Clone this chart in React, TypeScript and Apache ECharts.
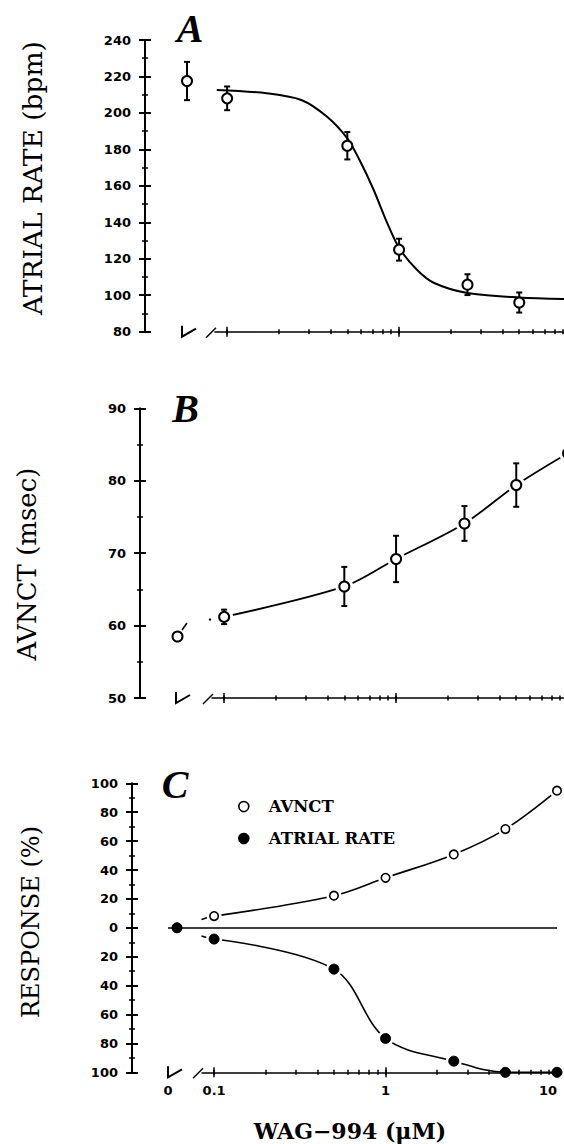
import React, { useEffect, useRef } from "react";
import * as echarts from "echarts";

const W = 564;
const H = 1144;

// ---------------- data ----------------
// log-axis tick positions (µM) and labelled ticks
const logTickValues = [0.1, 0.2, 0.3, 0.4, 0.5, 0.6, 0.7, 0.8, 0.9, 1, 2, 3, 4, 5, 6, 7, 8, 9, 10];
const logMajorValues = [0.1, 1, 10];
const logLabelValues = [0.1, 1, 10];

// Panel A : atrial rate (bpm), mean ± SEM
const rateCtrl = 217.5;
const rateCtrlSem = 10.5;
const rateDose = [0.1, 0.5, 1, 2.5, 5];
const rateMean = [208, 182, 125, 105.8, 96];
const rateSem = [6.5, 7.5, 6, 5.7, 5.5];
// fitted curve
const rateFitDose = [0.087, 0.17, 0.27, 0.38, 0.5, 0.59, 0.71, 0.85, 1.0, 1.27, 1.6, 2.5, 5, 10];
const rateFitValue = [212.6, 210.8, 207.1, 198, 186, 174, 158, 140, 126, 114, 106.7, 101.2, 98.8, 97.9];

// Panel B : AVNCT (msec), mean ± SEM
const avnctCtrl = 58.5;
const avnctDose = [0.1, 0.5, 1, 2.5, 5, 10];
const avnctMean = [61.2, 65.4, 69.2, 74.1, 79.4, 83.8];
const avnctSem = [1.0, 2.7, 3.2, 2.4, 3.0, 0];

// Panel C : response (%)
const respCtrl = 0;
const respDose = [0.1, 0.5, 1, 2.5, 5, 10];
const respAvnct = [8.1, 22.2, 34.6, 50.8, 68.3, 94.9];
const respRate = [-7.8, -28.6, -76.6, -92.3, -100, -100];

// ---------------- layout ----------------
type Panel = {
  top: number;
  height: number;
  axisX: number;
  ctrlX: number;
  ctrlTickX: number;
  logLeft: number;
  logWidth: number;
  yMin: number;
  yMax: number;
  yStep: number;
};

const panelA: Panel = { top: 40, height: 291.7, axisX: 145, ctrlX: 187, ctrlTickX: 182, logLeft: 215, logWidth: 356, yMin: 80, yMax: 240, yStep: 20 };
const panelB: Panel = { top: 408.3, height: 289.7, axisX: 140, ctrlX: 177.5, ctrlTickX: 176, logLeft: 212, logWidth: 356, yMin: 50, yMax: 90, yStep: 10 };
const panelC: Panel = { top: 783.3, height: 289, axisX: 132, ctrlX: 177, ctrlTickX: 168, logLeft: 202, logWidth: 355, yMin: -100, yMax: 100, yStep: 20 };

const LOG_MIN = 0.085;
const LOG_MAX = 10;
const BLK = "#000";
const TICK_FONT = { fontFamily: "DejaVu Sans", fontWeight: "bold" as const, fontSize: 13, color: BLK };

function buildOption() {
  const grid: any[] = [];
  const xAxis: any[] = [];
  const yAxis: any[] = [];
  const series: any[] = [];
  const graphic: any[] = [];

  function addPanel(p: Panel, showXLabels: boolean, yFormatter?: (v: number) => string) {
    const gCtrl = grid.length;
    grid.push({ left: p.axisX, top: p.top, width: p.logLeft - p.axisX, height: p.height, containLabel: false, outerBoundsMode: "none" });
    const gLog = grid.length;
    grid.push({ left: p.logLeft, top: p.top, width: p.logWidth, height: p.height, containLabel: false, outerBoundsMode: "none" });

    // control (dose 0) axis, linear, hidden
    const xCtrl = xAxis.length;
    xAxis.push({
      type: "value",
      gridIndex: gCtrl,
      position: "bottom",
      min: -(p.ctrlX - p.axisX),
      max: p.logLeft - p.ctrlX,
      axisLine: { show: false, onZero: false },
      axisTick: { show: false },
      splitLine: { show: false },
      axisLabel: showXLabels
        ? { show: true, customValues: [p.ctrlTickX - p.ctrlX], formatter: () => "0", margin: 12, ...TICK_FONT }
        : { show: false },
    });

    const yCtrl = yAxis.length;
    yAxis.push({
      type: "value",
      gridIndex: gCtrl,
      position: "left",
      min: p.yMin,
      max: p.yMax,
      interval: p.yStep,
      axisLine: { show: true, onZero: false, lineStyle: { color: BLK, width: 2 } },
      axisTick: { show: true, inside: false, length: 6, lineStyle: { color: BLK, width: 2 } },
      minorTick: { show: true, splitNumber: 2, length: 3, lineStyle: { color: BLK, width: 1.5 } },
      splitLine: { show: false },
      axisLabel: { show: true, margin: 14, ...TICK_FONT, formatter: yFormatter || ((v: number) => String(v)) },
    });
    yAxis.push({
      type: "value",
      gridIndex: gCtrl,
      position: "left",
      min: p.yMin,
      max: p.yMax,
      interval: p.yStep,
      axisLine: { show: false, onZero: false },
      axisTick: { show: true, inside: true, length: 6, lineStyle: { color: BLK, width: 2 } },
      minorTick: { show: true, splitNumber: 2, length: 3, lineStyle: { color: BLK, width: 1.5 } },
      splitLine: { show: false },
      axisLabel: { show: false },
    });
    const yLog = yAxis.length;
    yAxis.push({ type: "value", gridIndex: gLog, min: p.yMin, max: p.yMax, show: false, axisLine: { onZero: false } });

    const xLog = xAxis.length;
    const logBase = {
      type: "log",
      logBase: 10,
      gridIndex: gLog,
      position: "bottom",
      min: LOG_MIN,
      max: LOG_MAX,
      splitLine: { show: false },
      minorTick: { show: false },
    };
    xAxis.push({
      ...logBase,
      axisLine: { show: true, onZero: false, lineStyle: { color: BLK, width: 1.5 } },
      axisTick: { show: true, inside: false, length: 2.5, customValues: logTickValues, lineStyle: { color: BLK, width: 1.5 } },
      axisLabel: showXLabels
        ? {
            show: true,
            customValues: logLabelValues,
            margin: 12,
            alignMaxLabel: "right",
            ...TICK_FONT,
            formatter: (v: number) => String(+Number(v).toPrecision(3)),
          }
        : { show: false },
    });
    xAxis.push({
      ...logBase,
      axisLine: { show: false, onZero: false },
      axisTick: { show: true, inside: true, length: 2.5, customValues: logTickValues, lineStyle: { color: BLK, width: 1.5 } },
      axisLabel: { show: false },
    });
    xAxis.push({
      ...logBase,
      axisLine: { show: false, onZero: false },
      axisTick: { show: true, inside: false, length: 5, customValues: logMajorValues, lineStyle: { color: BLK, width: 1.5 } },
      axisLabel: { show: false },
    });
    xAxis.push({
      ...logBase,
      axisLine: { show: false, onZero: false },
      axisTick: { show: true, inside: true, length: 5, customValues: logMajorValues, lineStyle: { color: BLK, width: 1.5 } },
      axisLabel: { show: false },
    });

    // axis-break marks (decoration)
    const yAx = p.top + p.height;
    graphic.push({
      type: "polyline",
      shape: { points: [[p.ctrlTickX, yAx - 6], [p.ctrlTickX, yAx + 5], [p.ctrlTickX + 14, yAx - 3]] },
      style: { stroke: BLK, lineWidth: 2, fill: "none" },
    });
    graphic.push({
      type: "polyline",
      shape: { points: [[p.logLeft - 9, yAx + 6], [p.logLeft + 1, yAx - 4]] },
      style: { stroke: BLK, lineWidth: 1.5, fill: "none" },
    });

    return { xCtrl, yCtrl, xLog, yLog };
  }

  const lineS = (name: string, xi: number, yi: number, data: number[][], width: number, smooth: number, extra: any = {}) => ({
    type: "line",
    name,
    xAxisIndex: xi,
    yAxisIndex: yi,
    data,
    symbol: "none",
    showSymbol: false,
    smooth,
    lineStyle: { color: BLK, width },
    itemStyle: { color: BLK },
    z: 2,
    silent: true,
    ...extra,
  });

  const dotS = (name: string, xi: number, yi: number, data: number[][], size: number, fill: string, bw: number, z = 5) => ({
    type: "scatter",
    name,
    xAxisIndex: xi,
    yAxisIndex: yi,
    data,
    symbol: "circle",
    symbolSize: size,
    itemStyle: { color: fill, borderColor: BLK, borderWidth: bw, opacity: 1 },
    z,
    silent: true,
  });

  const haloS = (xi: number, yi: number, data: number[][], size: number) => ({
    type: "scatter",
    name: "halo",
    xAxisIndex: xi,
    yAxisIndex: yi,
    data,
    symbol: "circle",
    symbolSize: size,
    itemStyle: { color: "#fff", borderWidth: 0, opacity: 1 },
    z: 3,
    silent: true,
  });

  const errS = (xi: number, yi: number, data: number[][]) => ({
    type: "custom",
    name: "sem",
    xAxisIndex: xi,
    yAxisIndex: yi,
    data,
    encode: { x: 0, y: 1 },
    z: 4,
    silent: true,
    renderItem: (params: any, api: any) => {
      const x = api.value(0);
      const y = api.value(1);
      const e = api.value(2);
      if (!e) return null;
      const t = api.coord([x, y + e]);
      const b = api.coord([x, y - e]);
      const w = 3;
      const st = { stroke: BLK, lineWidth: 2 };
      return {
        type: "group",
        children: [
          { type: "line", shape: { x1: t[0], y1: t[1], x2: b[0], y2: b[1] }, style: st },
          { type: "line", shape: { x1: t[0] - w, y1: t[1], x2: t[0] + w, y2: t[1] }, style: st },
          { type: "line", shape: { x1: b[0] - w, y1: b[1], x2: b[0] + w, y2: b[1] }, style: st },
        ],
      };
    },
  });

  // ---------- Panel A ----------
  const a = addPanel(panelA, false);
  series.push(lineS("fit", a.xLog, a.yLog, rateFitDose.map((d, i) => [d, rateFitValue[i]]), 2, 0.3));
  series.push(errS(a.xLog, a.yLog, rateDose.map((d, i) => [d, rateMean[i], rateSem[i]])));
  series.push(dotS("rateA", a.xLog, a.yLog, rateDose.map((d, i) => [d, rateMean[i]]), 10, "#fff", 2));
  series.push(errS(a.xCtrl, a.yCtrl, [[0, rateCtrl, rateCtrlSem]]));
  series.push(dotS("rateA0", a.xCtrl, a.yCtrl, [[0, rateCtrl]], 10, "#fff", 2));

  // ---------- Panel B ----------
  const b = addPanel(panelB, false);
  const bPts = avnctDose.map((d, i) => [d, avnctMean[i]]);
  series.push(lineS("avnctLine", b.xLog, b.yLog, bPts, 1.8, 0.3));
  series.push(haloS(b.xLog, b.yLog, bPts, 18));
  series.push(errS(b.xLog, b.yLog, avnctDose.map((d, i) => [d, avnctMean[i], avnctSem[i]])));
  series.push(dotS("avnctB", b.xLog, b.yLog, bPts, 10, "#fff", 2));
  series.push(dotS("avnctB0", b.xCtrl, b.yCtrl, [[0, avnctCtrl]], 10, "#fff", 2));
  // short stubs of the broken connector between dose 0 and 0.1 (decoration)
  graphic.push({ type: "line", shape: { x1: 182, y1: 630, x2: 187, y2: 623 }, style: { stroke: BLK, lineWidth: 1.6 } });
  graphic.push({ type: "circle", shape: { cx: 210, cy: 619.5, r: 1.2 }, style: { fill: BLK } });

  // ---------- Panel C ----------
  const c = addPanel(panelC, true, (v: number) => String(Math.abs(v)));
  const cAv = respDose.map((d, i) => [d, respAvnct[i]]);
  const cRt = respDose.map((d, i) => [d, respRate[i]]);
  series.push(
    lineS("avnctResp", c.xLog, c.yLog, cAv, 1.6, 0.35, {
      markLine: {
        silent: true,
        symbol: "none",
        label: { show: false },
        lineStyle: { color: BLK, width: 1.6, type: "solid" },
        data: [{ yAxis: 0 }],
      },
    })
  );
  series.push(lineS("rateResp", c.xLog, c.yLog, cRt, 1.6, 0.35));
  series.push(haloS(c.xLog, c.yLog, cAv, 15));
  series.push(haloS(c.xLog, c.yLog, cRt.filter((pt) => pt[1] > panelC.yMin), 16));
  series.push(dotS("AVNCT", c.xLog, c.yLog, cAv, 8.5, "#fff", 1.6));
  series.push(dotS("ATRIAL RATE", c.xLog, c.yLog, cRt, 10, BLK, 1));
  series.push({
    ...dotS("AVNCT", c.xCtrl, c.yCtrl, [[0, respCtrl]], 8.5, "#fff", 1.6),
    markLine: {
      silent: true,
      symbol: "none",
      label: { show: false },
      lineStyle: { color: BLK, width: 1.6, type: "solid" },
      data: [[{ coord: [panelC.ctrlTickX - panelC.ctrlX, 0] }, { coord: [panelC.logLeft - panelC.ctrlX, 0] }]],
    },
  });
  series.push(dotS("ATRIAL RATE", c.xCtrl, c.yCtrl, [[0, respCtrl]], 10, BLK, 1, 6));
  // connector stubs leaving the axis break (decoration)
  graphic.push({ type: "line", shape: { x1: 201.5, y1: 919.5, x2: 209, y2: 917 }, style: { stroke: BLK, lineWidth: 1.6 } });
  graphic.push({ type: "line", shape: { x1: 201.5, y1: 936, x2: 209, y2: 938.3 }, style: { stroke: BLK, lineWidth: 1.6 } });

  // ---------- texts ----------
  const letter = (t: string, x: number, y: number) => ({
    type: "text",
    x,
    y,
    style: { text: t, fontFamily: "Liberation Serif", fontStyle: "italic", fontWeight: "bold", fontSize: 40, fill: BLK, align: "center", verticalAlign: "middle" },
  });
  graphic.push(letter("A", 190, 28));
  graphic.push(letter("B", 185.5, 408));
  graphic.push(letter("C", 175, 784));

  const ytitle = (t: string, x: number, y: number, size: number) => ({
    type: "text",
    x,
    y,
    rotation: Math.PI / 2,
    style: { text: t, fontFamily: "DejaVu Serif", fontSize: size, fill: BLK, align: "center", verticalAlign: "middle" },
  });
  graphic.push(ytitle("ATRIAL RATE (bpm)", 32, 178, 26.5));
  graphic.push(ytitle("AVNCT (msec)", 27, 564, 26));
  graphic.push(ytitle("RESPONSE (%)", 31, 922, 24));
  graphic.push({
    type: "text",
    x: 350,
    y: 1131,
    style: { text: "WAG\u2212994 (\u03bcM)", fontFamily: "DejaVu Serif", fontWeight: "bold", fontSize: 22, fill: BLK, align: "center", verticalAlign: "middle" },
  });

  return {
    animation: false,
    backgroundColor: "#fff",
    grid,
    xAxis,
    yAxis,
    series,
    graphic,
    legend: {
      show: true,
      selectedMode: false,
      orient: "vertical",
      left: 238,
      top: 798,
      padding: 0,
      itemWidth: 40,
      itemHeight: 10,
      itemGap: 15,
      icon: "circle",
      data: [{ name: "AVNCT" }, { name: "ATRIAL RATE" }],
      itemStyle: { borderWidth: 1.6 },
      textStyle: { fontFamily: "DejaVu Serif", fontWeight: "bold", fontSize: 16.5, color: BLK, lineHeight: 16 },
    },
  };
}

export default function App() {
  const ref = useRef<HTMLDivElement>(null);
  useEffect(() => {
    document.body.style.margin = "0";
    const chart = echarts.init(ref.current as HTMLDivElement, null, { renderer: "svg", width: W, height: H });
    chart.setOption(buildOption() as any);
    return () => chart.dispose();
  }, []);
  return <div ref={ref} style={{ width: W, height: H, background: "#fff" }} />;
}
